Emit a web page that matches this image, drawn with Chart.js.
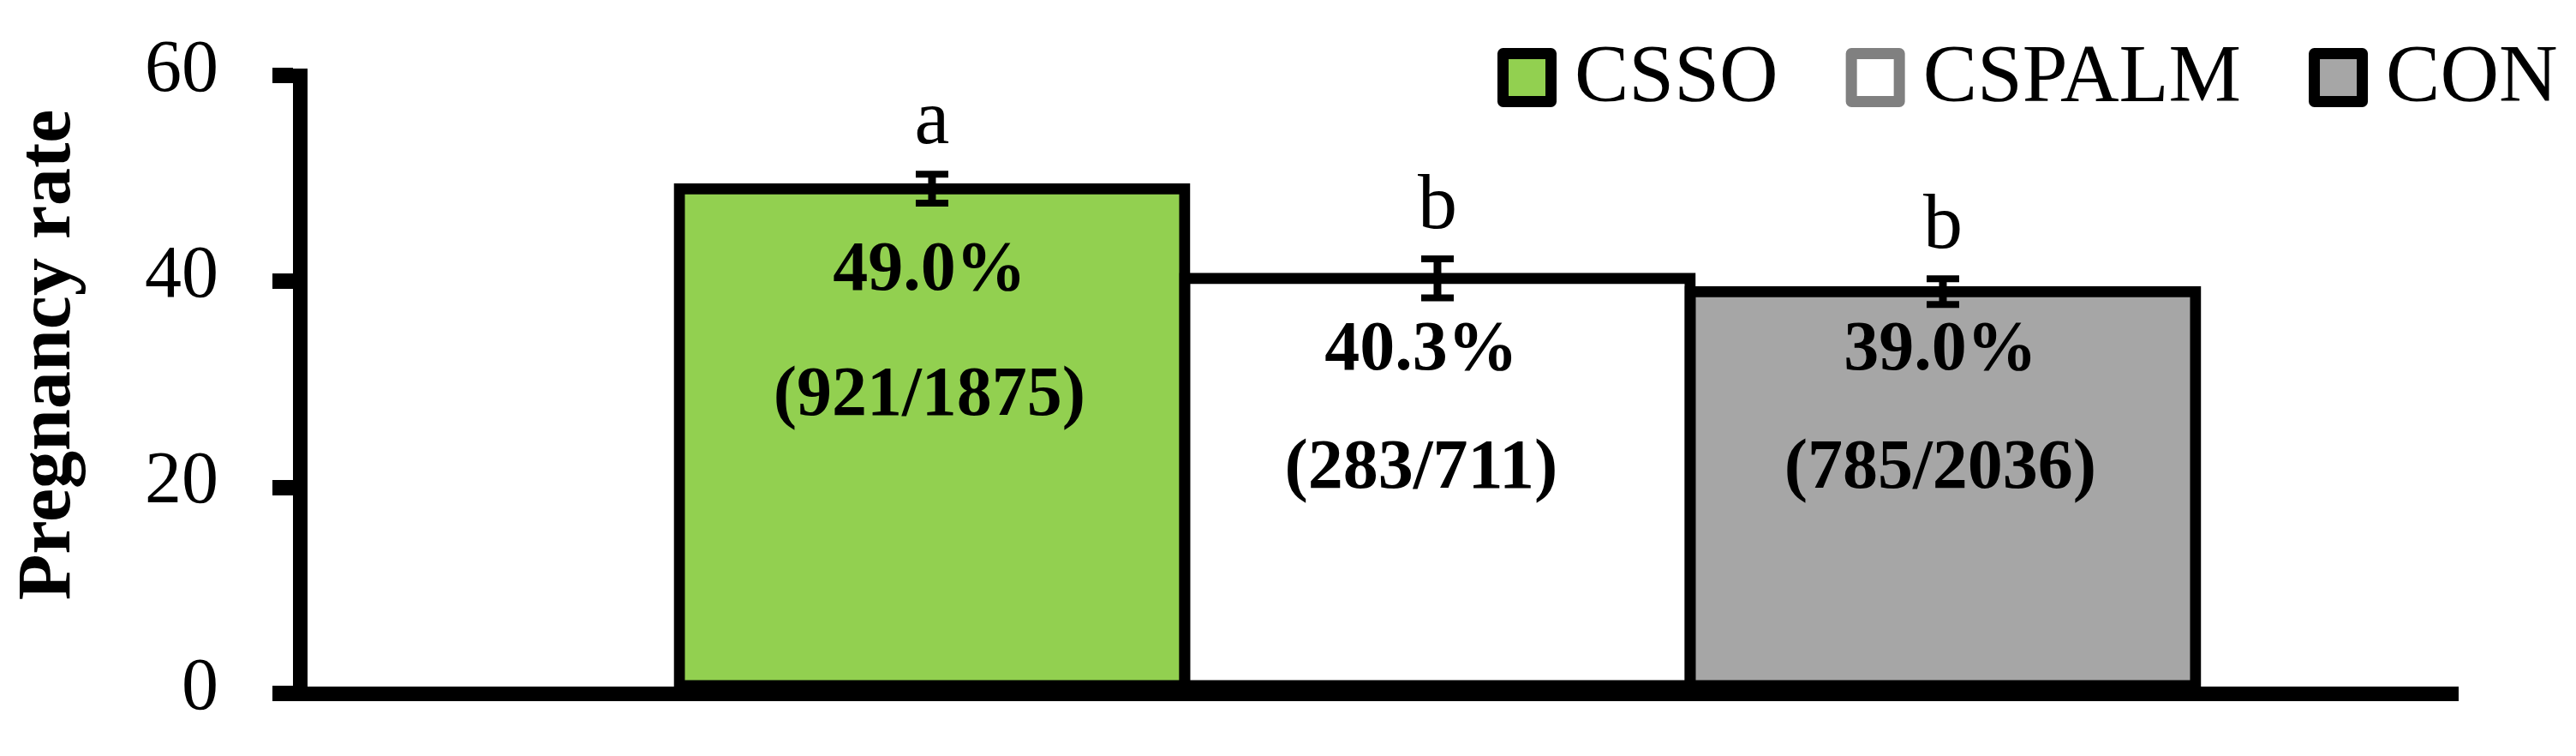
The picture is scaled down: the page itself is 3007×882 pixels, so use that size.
<!DOCTYPE html>
<html lang="en">
  <head>
    <meta charset="UTF-8" />
    <title>Pregnancy rate</title>
    <style>
      html, body { margin: 0; padding: 0; background: #fff; }
      canvas { display: block; }
    </style>
  </head>
  <body>
    <canvas id="myChart" width="3007" height="882"></canvas>

    <script src="https://cdn.jsdelivr.net/npm/chart.js"></script>
    <script>
      const groups = ["CSSO", "CSPALM", "CON"];
      const rates = [49.0, 40.3, 39.0];
      const errors = [1.4, 1.9, 1.25];
      const letters = ["a", "b", "b"];
      const counts = ["(921/1875)", "(283/711)", "(785/2036)"];
      const yTicks = [0, 20, 40, 60];

      const fills = ["#92d050", "#ffffff", "#a6a6a6"];
      const legendEdges = ["#000000", "#808080", "#000000"];
      const serif = "'Liberation Serif', 'DejaVu Serif', serif";

      // text boxes inside the bars: height in axis units, x shift in px
      const pctLevel = [41.0, 33.2, 33.2];
      const cntLevel = [28.8, 21.7, 21.7];
      const textShift = [-3, -19, -3];

      const barText = {
        id: "barText",
        afterDatasetsDraw(chart) {
          const ctx = chart.ctx;
          const y = chart.scales.y;
          const bars = chart.getDatasetMeta(0).data;
          ctx.save();
          ctx.strokeStyle = "#000";
          ctx.fillStyle = "#000";
          ctx.lineCap = "butt";
          bars.forEach((bar, i) => {
            const cx = bar.x;
            const hi = y.getPixelForValue(rates[i] + errors[i]);
            const lo = y.getPixelForValue(rates[i] - errors[i]);
            // error bar
            ctx.lineWidth = 9;
            ctx.beginPath();
            ctx.moveTo(cx, hi);
            ctx.lineTo(cx, lo);
            ctx.stroke();
            ctx.lineWidth = 8;
            ctx.beginPath();
            ctx.moveTo(cx - 19, hi);
            ctx.lineTo(cx + 19, hi);
            ctx.moveTo(cx - 19, lo);
            ctx.lineTo(cx + 19, lo);
            ctx.stroke();

            // significance letter
            ctx.textAlign = "center";
            ctx.textBaseline = "alphabetic";
            ctx.font = `92px ${serif}`;
            ctx.fillText(letters[i], cx, hi - 36);

            // value and count
            ctx.textBaseline = "middle";
            ctx.font = `bold 82px ${serif}`;
            ctx.fillText(rates[i].toFixed(1) + "%", cx + textShift[i], y.getPixelForValue(pctLevel[i]));
            ctx.fillText(counts[i], cx + textShift[i], y.getPixelForValue(cntLevel[i]));
          });
          ctx.restore();
        },
        afterDraw(chart) {
          const ctx = chart.ctx;
          ctx.save();
          // y axis title
          ctx.translate(81, 414);
          ctx.rotate(-Math.PI / 2);
          ctx.font = `bold 88px ${serif}`;
          ctx.fillStyle = "#000";
          ctx.textAlign = "center";
          ctx.textBaseline = "alphabetic";
          ctx.fillText("Pregnancy rate", 0, 0);
          ctx.restore();

          // legend
          ctx.save();
          ctx.font = `95px ${serif}`;
          ctx.textAlign = "left";
          ctx.textBaseline = "alphabetic";
          const top = 56, size = 69, edge = 13;
          let x = 1748;
          groups.forEach((g, i) => {
            ctx.fillStyle = fills[i];
            ctx.fillRect(x + edge, top + edge, size - 2 * edge, size - 2 * edge);
            ctx.lineWidth = edge;
            ctx.lineJoin = "round";
            ctx.strokeStyle = legendEdges[i];
            ctx.strokeRect(x + edge / 2, top + edge / 2, size - edge, size - edge);
            ctx.fillStyle = "#000";
            ctx.fillText(g, x + size + 21, 118);
            x += size + 21 + ctx.measureText(g).width + 79;
          });
          ctx.restore();
        },
      };

      const chart = new Chart("myChart", {
        type: "bar",
        data: {
          datasets: [
            {
              data: groups.map((g, i) => ({ x: i + 1, y: rates[i] })),
              backgroundColor: fills,
              borderColor: "#000",
              borderWidth: 13,
              borderSkipped: false,
              inflateAmount: 6.5,
              barPercentage: 1,
              categoryPercentage: 1,
            },
          ],
        },
        options: {
          responsive: false,
          animation: false,
          events: [],
          devicePixelRatio: 1,
          layout: { padding: { left: 0, right: 138, top: 88, bottom: 73 } },
          plugins: {
            legend: { display: false },
            tooltip: { enabled: false },
          },
          scales: {
            x: {
              type: "linear",
              offset: false,
              min: -0.2508,
              max: 4.0187,
              afterBuildTicks: (s) => { s.ticks = groups.map((g, i) => ({ value: i + 1 })); },
              afterFit: (s) => { s.height = 0; },
              border: { display: true, color: "#000", width: 17 },
              grid: { offset: false, drawOnChartArea: false, drawTicks: false },
              ticks: { display: false },
            },
            y: {
              min: 0,
              max: 60,
              afterBuildTicks: (s) => { s.ticks = yTicks.map((v) => ({ value: v })); },
              afterFit: (s) => {
                s.width = 350;
                s.paddingTop = 0;
                s.paddingBottom = 0;
              },
              border: { display: true, color: "#000", width: 17 },
              grid: { drawOnChartArea: false, drawTicks: true, tickLength: 32, lineWidth: 18, color: "#000" },
              ticks: { color: "#000", font: { family: serif, size: 86 }, padding: 63, labelOffset: -5 },
            },
          },
        },
        plugins: [barText],
      });
    </script>
  </body>
</html>
